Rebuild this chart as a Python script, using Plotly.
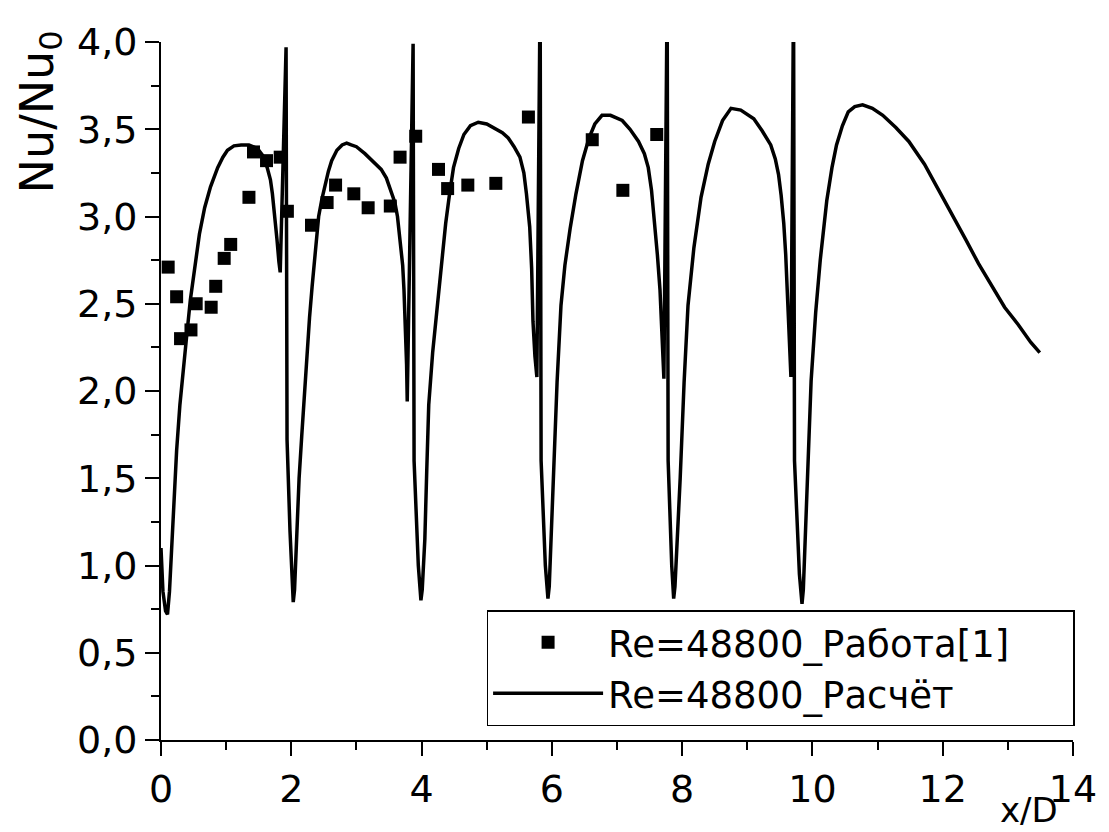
import plotly.graph_objects as go

# experimental points (Re=48800, work [1])
exp_x = [0.11, 0.24, 0.30, 0.46, 0.54, 0.77, 0.84, 0.97, 1.07, 1.35, 1.42, 1.62, 1.83, 1.94,
         2.31, 2.55, 2.68, 2.96, 3.18, 3.52, 3.67, 3.91, 4.26, 4.40, 4.71, 5.14, 5.64,
         6.62, 7.09, 7.61]
exp_y = [2.71, 2.54, 2.30, 2.35, 2.50, 2.48, 2.60, 2.76, 2.84, 3.11, 3.37, 3.32, 3.34, 3.03,
         2.95, 3.08, 3.18, 3.13, 3.05, 3.06, 3.34, 3.46, 3.27, 3.16, 3.18, 3.19, 3.57,
         3.44, 3.15, 3.47]

# calculation curve (Re=48800)
calc_x = [0.00, 0.03, 0.07,
          0.10, 0.13, 0.16, 0.19, 0.24, 0.29, 0.34, 0.39, 0.45, 0.52, 0.59, 0.67, 0.76, 0.87,
          0.95, 1.02, 1.12, 1.23, 1.35, 1.48, 1.56, 1.63, 1.68, 1.71, 1.75, 1.78, 1.81, 1.83,
          1.92, 1.935, 1.98, 2.01,
          2.03, 2.05, 2.09, 2.12, 2.16, 2.20, 2.24, 2.28, 2.32, 2.37, 2.42, 2.47, 2.52, 2.57,
          2.62, 2.70, 2.78, 2.85, 2.92, 3.00, 3.13, 3.25, 3.38, 3.46, 3.53, 3.59, 3.63, 3.67,
          3.71, 3.73, 3.75, 3.77, 3.78,
          3.87, 3.885, 3.95, 3.98,
          3.99, 4.01, 4.05, 4.08, 4.11, 4.17, 4.24, 4.30, 4.37, 4.43, 4.49, 4.57, 4.65, 4.75,
          4.87, 5.00, 5.15, 5.24, 5.33, 5.42, 5.51, 5.57, 5.61, 5.64, 5.66, 5.69, 5.71, 5.74,
          5.77,
          5.82, 5.835, 5.90, 5.93,
          5.94, 5.96, 6.00, 6.03, 6.08, 6.14, 6.20, 6.28, 6.37, 6.47, 6.57, 6.66, 6.77, 6.90,
          7.08, 7.20, 7.33, 7.42, 7.48, 7.53, 7.58, 7.62, 7.66, 7.69, 7.72,
          7.77, 7.785, 7.84, 7.86,
          7.87, 7.89, 7.93, 7.97, 8.03, 8.09, 8.18, 8.29, 8.40, 8.50, 8.62, 8.75, 8.90, 9.10,
          9.23, 9.36, 9.43, 9.48, 9.52, 9.56, 9.59, 9.61, 9.64, 9.67,
          9.71, 9.725, 9.80, 9.83,
          9.84, 9.86, 9.90, 9.94, 9.98, 10.05, 10.12, 10.22, 10.30, 10.37, 10.46, 10.55, 10.65,
          10.77, 10.92, 11.08, 11.28, 11.48, 11.72, 11.94, 12.15, 12.35, 12.55, 12.75, 12.95,
          13.16, 13.35, 13.49]
calc_y = [1.10, 0.85, 0.74,
          0.72, 0.85, 1.08, 1.36, 1.66, 1.92, 2.13, 2.30, 2.52, 2.73, 2.90, 3.05, 3.17, 3.28,
          3.34, 3.38, 3.405, 3.41, 3.41, 3.39, 3.35, 3.28, 3.21, 3.13, 3.00, 2.87, 2.74, 2.68,
          3.97, 1.72, 1.20, 0.88,
          0.79, 0.86, 1.26, 1.50, 1.74, 1.98, 2.20, 2.42, 2.60, 2.82, 3.00, 3.10, 3.19, 3.26,
          3.32, 3.38, 3.41, 3.42, 3.41, 3.40, 3.36, 3.32, 3.27, 3.22, 3.15, 3.08, 3.00, 2.88,
          2.72, 2.58, 2.40, 2.15, 1.94,
          3.99, 1.60, 1.00, 0.85,
          0.80, 0.86, 1.15, 1.55, 1.92, 2.22, 2.49, 2.74, 2.96, 3.13, 3.28, 3.39, 3.47, 3.52,
          3.54, 3.53, 3.50, 3.48, 3.45, 3.40, 3.34, 3.25, 3.13, 3.04, 2.94, 2.70, 2.40, 2.20,
          2.08,
          4.30, 1.60, 1.00, 0.84,
          0.81, 0.88, 1.25, 1.60, 2.05, 2.49, 2.72, 2.93, 3.13, 3.32, 3.45, 3.53, 3.58, 3.58,
          3.55, 3.50, 3.43, 3.36, 3.28, 3.15, 2.96, 2.78, 2.58, 2.30, 2.07,
          4.30, 1.60, 1.00, 0.85,
          0.81, 0.88, 1.15, 1.50, 2.05, 2.49, 2.82, 3.11, 3.30, 3.43, 3.55, 3.62, 3.61, 3.56,
          3.49, 3.41, 3.33, 3.24, 3.12, 2.96, 2.78, 2.58, 2.30, 2.08,
          4.30, 1.60, 0.95, 0.80,
          0.78, 0.86, 1.25, 1.70, 2.06, 2.45, 2.75, 3.09, 3.28, 3.41, 3.52, 3.60, 3.63,
          3.64, 3.62, 3.58, 3.51, 3.43, 3.30, 3.15, 3.01, 2.87, 2.73, 2.60, 2.48,
          2.38, 2.28, 2.22]

FONT = "DejaVu Sans"
PAD = "\u00a0" * 5  # widens the legend box to the reference's width

fig = go.Figure()
fig.add_trace(go.Scatter(x=exp_x, y=exp_y, mode="markers", name="Re=48800_Работа[1]" + PAD,
                         marker=dict(symbol="square", size=13, color="black")))
fig.add_trace(go.Scatter(x=calc_x, y=calc_y, mode="lines", name="Re=48800_Расчёт",
                         line=dict(color="black", width=3.5)))

fig.update_xaxes(range=[0, 14], tickmode="array", tickvals=[0, 2, 4, 6, 8, 10, 12, 14],
                 ticktext=["0", "2", "4", "6", "8", "10", "12", "14"],
                 showline=True, linecolor="black", linewidth=2,
                 ticks="outside", ticklen=14, tickwidth=2, tickcolor="black",
                 minor=dict(tickvals=[1, 3, 5, 7, 9, 11, 13], ticks="outside", ticklen=8,
                            tickwidth=2, tickcolor="black"),
                 showgrid=False, zeroline=False,
                 tickfont=dict(family=FONT, size=38, color="black"))
fig.update_yaxes(range=[0, 4], tickvals=[0, 0.5, 1, 1.5, 2, 2.5, 3, 3.5, 4],
                 ticktext=["0,0", "0,5", "1,0", "1,5", "2,0", "2,5", "3,0", "3,5", "4,0"],
                 showline=True, linecolor="black", linewidth=2,
                 ticks="outside", ticklen=14, tickwidth=2, tickcolor="black",
                 minor=dict(tickvals=[0.25, 0.75, 1.25, 1.75, 2.25, 2.75, 3.25, 3.75],
                            ticks="outside", ticklen=8, tickwidth=2, tickcolor="black"),
                 showgrid=False, zeroline=False,
                 tickfont=dict(family=FONT, size=38, color="black"))

fig.add_annotation(text="Nu/Nu<sub>0</sub>", xref="paper", yref="paper", x=-0.132, y=0.9,
                   xanchor="center", yanchor="middle", textangle=-90, showarrow=False,
                   font=dict(family=FONT, size=46, color="black"))
fig.add_annotation(text="x/D", xref="paper", yref="paper", x=0.952, y=-0.1,
                   xanchor="center", yanchor="middle", showarrow=False,
                   font=dict(family=FONT, size=34, color="black"))

fig.update_layout(
    width=1101, height=824,
    margin=dict(l=153, r=27, t=25, b=92),
    plot_bgcolor="white", paper_bgcolor="white",
    showlegend=True,
    legend=dict(x=0.357, y=0.186, xanchor="left", yanchor="top",
                bgcolor="white", bordercolor="black", borderwidth=1.5,
                font=dict(family=FONT, size=37, color="black"),
                itemwidth=110, tracegroupgap=0),
)

fig.write_html("out.html")
